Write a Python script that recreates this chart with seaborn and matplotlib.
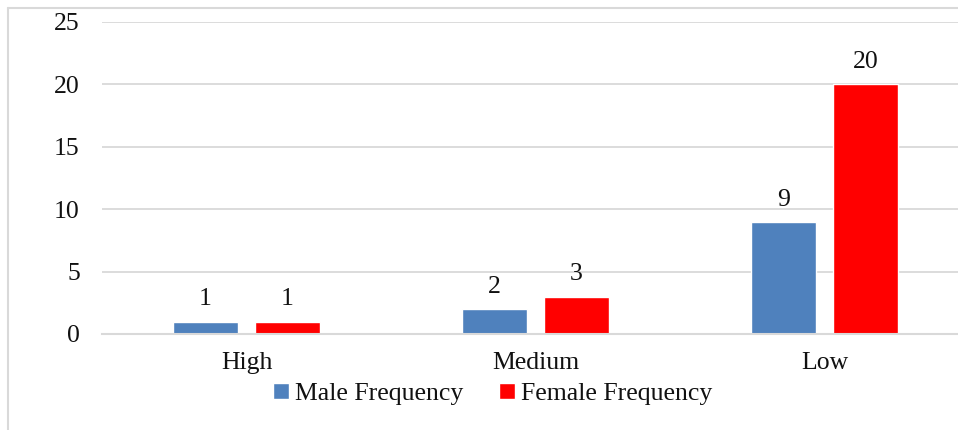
import matplotlib
matplotlib.use("Agg")
import matplotlib.pyplot as plt
from matplotlib.lines import Line2D
import seaborn as sns
import pandas as pd

# chart data
levels = ["High", "Medium", "Low"]
male_freq = [1, 2, 9]
female_freq = [1, 3, 20]
series_names = ["Male Frequency", "Female Frequency"]
y_ticks = [0, 5, 10, 15, 20, 25]

df = pd.DataFrame({
    "Level": levels * 2,
    "Count": male_freq + female_freq,
    "Series": [series_names[0]] * len(levels) + [series_names[1]] * len(levels),
})

sns.set_theme(style="white")
plt.rcParams["font.family"] = ["Liberation Serif", "DejaVu Serif"]
fs = 18.5
txt_col = "#111111"

fig = plt.figure(figsize=(9.58, 4.3), dpi=100)
# plot area runs past the right edge of the (cropped) chart
ax = fig.add_axes([102 / 958, 96 / 430, 856 / 958, 312 / 430])

sns.barplot(
    data=df, x="Level", y="Count", hue="Series",
    order=levels, hue_order=series_names,
    palette=["#4f81bd", "#ff0000"],
    width=0.567, gap=0.207, saturation=1, ax=ax, legend=True,
)

for cont in ax.containers:
    ax.bar_label(cont, padding=8, fontsize=fs, color=txt_col)

ax.set_xlim(-0.5, len(levels) - 0.5 - 11 / 289)
ax.set_ylim(0, 25)
ax.set_yticks(y_ticks)
ax.set_xlabel("")
ax.set_ylabel("")
ax.yaxis.grid(True, color="#d9d9d9", linewidth=1.3)
ax.set_axisbelow(True)
for side in ["top", "right", "left"]:
    ax.spines[side].set_visible(False)
ax.spines["bottom"].set_color("#d9d9d9")
ax.spines["bottom"].set_linewidth(1.5)
ax.tick_params(axis="y", length=0, pad=16, labelsize=fs, labelcolor=txt_col)
ax.tick_params(axis="x", length=0, pad=13, labelsize=fs, labelcolor=txt_col)

handles, labels = ax.get_legend_handles_labels()
ax.get_legend().remove()
fig.legend(
    handles, labels, loc="center", bbox_to_anchor=(493 / 958, 1 - 394 / 430),
    ncol=2, frameon=False, fontsize=fs, handlelength=0.6, handleheight=0.6,
    handletextpad=0.25, columnspacing=1.4, labelcolor=txt_col,
)

# outer chart frame (only top and left edges are inside the crop)
frame_x = 8 / 958
frame_y = 1 - 8 / 430
fig.add_artist(Line2D([frame_x, 1.0], [frame_y, frame_y], transform=fig.transFigure,
                      color="#d9d9d9", linewidth=1.5))
fig.add_artist(Line2D([frame_x, frame_x], [0.0, frame_y], transform=fig.transFigure,
                      color="#d9d9d9", linewidth=1.5))

fig.savefig("out.png", dpi=100)
